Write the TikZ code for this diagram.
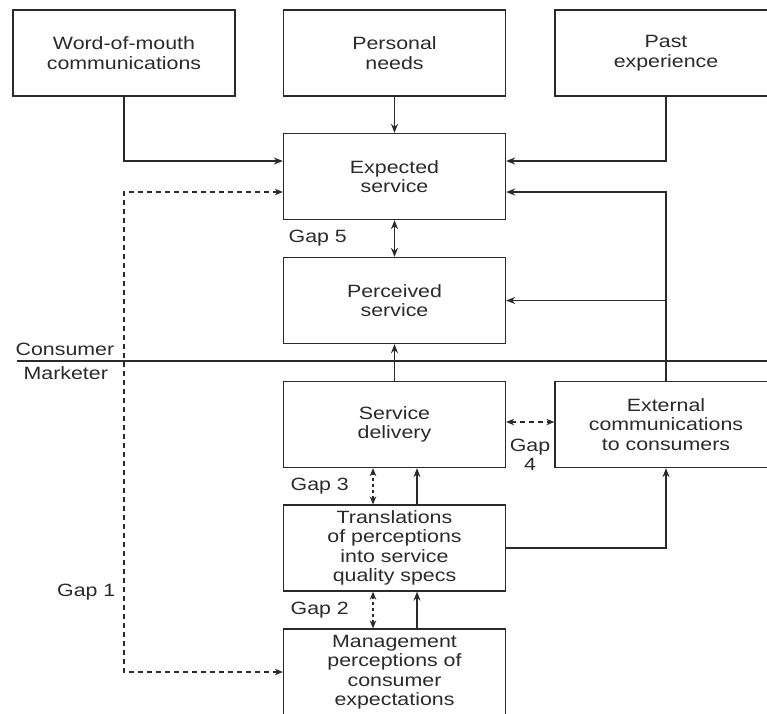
\documentclass[tikz,border=0pt]{standalone}
\usepackage{fontspec}
\setmainfont[FakeStretch=1.2]{Liberation Sans}
\usetikzlibrary{arrows.meta}
\definecolor{ink}{HTML}{2A2A2A}

\begin{document}
\begin{tikzpicture}[x=1pt, y=-1pt, line width=1.3pt, draw=ink, text=ink,
    box/.style={draw, rectangle, minimum width=222pt, minimum height=86pt,
      align=center, font=\fontsize{17.8}{19.5}\selectfont},
    lbl/.style={font=\fontsize{17.8}{19.5}\selectfont, align=center, inner sep=0pt},
    arr/.style={-{Stealth[length=9pt, width=7pt]}},
    gaparr/.style={{Stealth[length=8pt, width=6.5pt]}-{Stealth[length=8pt, width=6.5pt]}, dash pattern=on 5pt off 4pt}]
  \useasboundingbox (0,0) rectangle (767,713);
  \clip (0,0) rectangle (767,713);

  % Nodes
  \foreach \n/\x/\y/\t in {wom/124/53/{Word-of-mouth\\communications},
      needs/394.5/53/{Personal\\needs}, past/666/53/{Past\\experience},
      expect/394.5/176.5/{Expected\\service}, perceive/394.5/300.5/{Perceived\\service},
      deliver/394.5/424.5/{Service\\delivery}, extcom/666/424.5/{External\\communications\\to consumers},
      spec/394.5/548/{Translations\\of perceptions\\into service\\quality specs},
      mgmt/394.5/672/{Management\\perceptions of\\consumer\\expectations}}{
    \node[box] (\n) at (\x,\y) {\t};
  }

  % Consumer / marketer line
  \draw[line width=2.2pt] (17,361) -- (767,361);
  \node[lbl, anchor=west] (consumer) at (15,349) {Consumer};
  \node[lbl, anchor=west] (marketer) at (23,373) {Marketer};

  % Edges
  \draw[arr] (wom.south) |- ([yshift=15.5pt]expect.west);
  \draw[arr] (needs.south) -- (expect.north);
  \draw[arr] (past.south) |- ([yshift=15.5pt]expect.east);
  \draw[arr] (extcom.north) |- ([yshift=-15.5pt]expect.east);
  \draw[arr] (extcom.north |- perceive.east) -- (perceive.east);
  \draw[arr] (deliver.north) -- (perceive.south);
  \draw[arr] (spec.east) -| (extcom.south);
  \draw[arr] ([xshift=22.5pt]spec.north) -- ([xshift=22.5pt]deliver.south);
  \draw[arr] ([xshift=22.5pt]mgmt.north) -- ([xshift=22.5pt]spec.south);

  % Gaps
  \coordinate (gapcorner) at (wom.south |- mgmt.west);
  \draw[gaparr] ([yshift=-15.5pt]expect.west) -| (gapcorner) -- (mgmt.west);
  \node[lbl, anchor=east] (gap1) at (116,592) {Gap 1};
  \draw[gaparr, dash pattern=on 3pt off 3pt] ([xshift=-21.5pt]mgmt.north) -- ([xshift=-21.5pt]spec.south);
  \node[lbl, anchor=west] (gap2) at (290,610) {Gap 2};
  \draw[gaparr, dash pattern=on 3pt off 3pt] ([xshift=-21.5pt]spec.north) -- ([xshift=-21.5pt]deliver.south);
  \node[lbl, anchor=west] (gap3) at (290,486) {Gap 3};
  \draw[gaparr] ([yshift=2.5pt]deliver.east) -- ([yshift=2.5pt]extcom.west);
  \node[lbl] (gap4) at (530,455) {Gap\\[0pt]4};
  \draw[{Stealth[length=9pt, width=7pt]}-{Stealth[length=9pt, width=7pt]}] (expect.south) -- (perceive.north);
  \node[lbl, anchor=west] (gap5) at (288,238) {Gap 5};

\end{tikzpicture}
\end{document}
